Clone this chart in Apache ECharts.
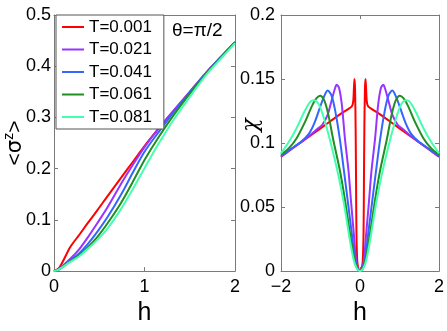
<!DOCTYPE html>
<html>
<head>
<meta charset="utf-8">
<script src="https://cdn.jsdelivr.net/npm/echarts@6/dist/echarts.min.js"></script>
<style>
  html, body { margin: 0; padding: 0; background: #fff; }
  #main { width: 447px; height: 331px; }
</style>
</head>
<body>
<div id="main"></div>
<script>
'use strict';
const FONT = 'Liberation Sans, Arial, Helvetica, sans-serif';
const GREEK = 'DejaVu Sans, Liberation Sans, sans-serif';
const AXIS_GREY = '#7a7a7a';

const names = ['T=0.001', 'T=0.021', 'T=0.041', 'T=0.061', 'T=0.081'];
const colors = ['#ff0000', '#9933ff', '#3366ff', '#1f8f1f', '#44ffb0'];

// left panel: <sigma^z> vs h
const hSigma = [0, 0.06, 0.18, 0.28, 0.37, 0.48, 0.59, 0.74, 0.87, 1.0, 1.15, 1.32, 1.5, 1.69, 1.85, 2.0];
const sigmaT001 = [0, 0.007, 0.047, 0.071, 0.093, 0.119, 0.146, 0.182, 0.213, 0.244, 0.277, 0.313, 0.350, 0.389, 0.419, 0.447];
const sigmaT021 = [0, 0.005, 0.024, 0.043, 0.065, 0.094, 0.124, 0.170, 0.207, 0.242, 0.277, 0.313, 0.350, 0.389, 0.419, 0.447];
const sigmaT041 = [0, 0.004, 0.021, 0.035, 0.052, 0.077, 0.105, 0.149, 0.192, 0.233, 0.270, 0.310, 0.349, 0.389, 0.419, 0.447];
const sigmaT061 = [0, 0.004, 0.019, 0.031, 0.046, 0.067, 0.093, 0.133, 0.174, 0.217, 0.260, 0.304, 0.346, 0.387, 0.418, 0.446];
const sigmaT081 = [0, 0.004, 0.018, 0.029, 0.043, 0.061, 0.083, 0.121, 0.160, 0.201, 0.247, 0.295, 0.340, 0.385, 0.416, 0.445];

// right panel: chi vs h, [h, chi]
const chiT001 = [
  [-2, 0.0893], [-1.75, 0.095], [-1.5, 0.1004], [-1.25, 0.106], [-1.0, 0.1115], [-0.75, 0.117],
  [-0.5, 0.1226], [-0.3, 0.1265], [-0.2, 0.129], [-0.17, 0.133], [-0.155, 0.142], [-0.14, 0.150],
  [-0.125, 0.142], [-0.11, 0.11], [-0.1, 0.07], [-0.09, 0.03], [-0.07, 0.008], [-0.04, 0.002], [0, 0],
  [0.04, 0.002], [0.07, 0.008], [0.09, 0.03], [0.1, 0.07], [0.11, 0.11], [0.125, 0.142], [0.14, 0.150],
  [0.155, 0.142], [0.17, 0.133], [0.2, 0.129], [0.3, 0.1265], [0.5, 0.1226], [0.75, 0.117],
  [1.0, 0.1115], [1.25, 0.106], [1.5, 0.1004], [1.75, 0.095], [2, 0.0893]
];
const chiT021 = [
  [-2, 0.0893], [-1.75, 0.095], [-1.5, 0.1004], [-1.25, 0.1065], [-1.1, 0.1105], [-0.95, 0.1145],
  [-0.82, 0.122], [-0.72, 0.133], [-0.64, 0.142], [-0.59, 0.1455], [-0.53, 0.143], [-0.46, 0.13],
  [-0.38, 0.103], [-0.29, 0.078], [-0.225, 0.0535], [-0.155, 0.0286], [-0.1, 0.0087], [-0.05, 0.002], [0, 0],
  [0.05, 0.002], [0.1, 0.0087], [0.155, 0.0286], [0.225, 0.0535], [0.29, 0.078], [0.38, 0.103],
  [0.46, 0.13], [0.53, 0.143], [0.59, 0.1455], [0.64, 0.142], [0.72, 0.133], [0.82, 0.122],
  [0.95, 0.1145], [1.1, 0.1105], [1.25, 0.1065], [1.5, 0.1004], [1.75, 0.095], [2, 0.0893]
];
const chiT041 = [
  [-2, 0.090], [-1.75, 0.0955], [-1.5, 0.1008], [-1.3, 0.107], [-1.15, 0.116], [-1.0, 0.129],
  [-0.9, 0.137], [-0.82, 0.141], [-0.72, 0.137], [-0.62, 0.124], [-0.51, 0.103], [-0.405, 0.078],
  [-0.305, 0.0535], [-0.205, 0.0286], [-0.125, 0.0087], [-0.06, 0.002], [0, 0],
  [0.06, 0.002], [0.125, 0.0087], [0.205, 0.0286], [0.305, 0.0535], [0.405, 0.078], [0.51, 0.103],
  [0.62, 0.124], [0.72, 0.137], [0.82, 0.141], [0.9, 0.137], [1.0, 0.129], [1.15, 0.116],
  [1.3, 0.107], [1.5, 0.1008], [1.75, 0.0955], [2, 0.090]
];
const chiT061 = [
  [-2, 0.091], [-1.8, 0.096], [-1.6, 0.104], [-1.4, 0.116], [-1.2, 0.130], [-1.1, 0.135],
  [-1.01, 0.137], [-0.9, 0.133], [-0.8, 0.122], [-0.68, 0.103], [-0.505, 0.078], [-0.37, 0.0535],
  [-0.25, 0.0286], [-0.14, 0.0087], [-0.07, 0.002], [0, 0],
  [0.07, 0.002], [0.14, 0.0087], [0.25, 0.0286], [0.37, 0.0535], [0.505, 0.078], [0.68, 0.103],
  [0.8, 0.122], [0.9, 0.133], [1.01, 0.137], [1.1, 0.135], [1.2, 0.130], [1.4, 0.116],
  [1.6, 0.104], [1.8, 0.096], [2, 0.091]
];
const chiT081 = [
  [-2, 0.092], [-1.8, 0.101], [-1.6, 0.112], [-1.4, 0.125], [-1.25, 0.1325], [-1.17, 0.1335],
  [-1.08, 0.132], [-1.01, 0.128], [-0.9, 0.118], [-0.765, 0.103], [-0.57, 0.078], [-0.41, 0.0535],
  [-0.28, 0.0286], [-0.16, 0.0087], [-0.08, 0.002], [0, 0],
  [0.08, 0.002], [0.16, 0.0087], [0.28, 0.0286], [0.41, 0.0535], [0.57, 0.078], [0.765, 0.103],
  [0.9, 0.118], [1.01, 0.128], [1.08, 0.132], [1.17, 0.1335], [1.25, 0.1325], [1.4, 0.125],
  [1.6, 0.112], [1.8, 0.101], [2, 0.092]
];

const sigmaSets = [sigmaT001, sigmaT021, sigmaT041, sigmaT061, sigmaT081];
const chiSets = [chiT001, chiT021, chiT041, chiT061, chiT081];

function frameAxis(extra) {
  return Object.assign({
    type: 'value',
    axisLine: {show: true, onZero: false, lineStyle: {color: AXIS_GREY, width: 1}},
    axisTick: {show: true, inside: true, length: 4, lineStyle: {color: AXIS_GREY}},
    splitLine: {show: false},
    axisLabel: {show: false}
  }, extra);
}
const labelStyle = {show: true, fontSize: 18, color: '#000', fontFamily: FONT};

const chart = echarts.init(document.getElementById('main'));
chart.setOption({
  animation: false,
  backgroundColor: '#fff',
  grid: [
    {left: 54, top: 15, width: 181, height: 268},
    {left: 281, top: 15, width: 161, height: 268}
  ],
  xAxis: [
    frameAxis({gridIndex: 0, position: 'bottom', min: 0, max: 2, interval: 1,
      axisLabel: Object.assign({margin: 7}, labelStyle),
      name: 'h', nameLocation: 'middle', nameGap: 14,
      nameTextStyle: {fontSize: 25, color: '#000', fontFamily: FONT}}),
    frameAxis({gridIndex: 0, position: 'top', min: 0, max: 2, interval: 1}),
    frameAxis({gridIndex: 1, position: 'bottom', min: -2, max: 2, interval: 2,
      axisLabel: Object.assign({margin: 7, formatter: v => (v < 0 ? '\u2212' + (-v) : String(v))}, labelStyle),
      name: 'h', nameLocation: 'middle', nameGap: 14,
      nameTextStyle: {fontSize: 25, color: '#000', fontFamily: FONT}}),
    frameAxis({gridIndex: 1, position: 'top', min: -2, max: 2, interval: 2})
  ],
  yAxis: [
    frameAxis({gridIndex: 0, position: 'left', min: 0, max: 0.5, interval: 0.1,
      axisLabel: Object.assign({margin: 3}, labelStyle)}),
    frameAxis({gridIndex: 0, position: 'right', min: 0, max: 0.5, interval: 0.1}),
    frameAxis({gridIndex: 1, position: 'left', min: 0, max: 0.2, interval: 0.05,
      axisLabel: Object.assign({margin: 6}, labelStyle)}),
    frameAxis({gridIndex: 1, position: 'right', min: 0, max: 0.2, interval: 0.05})
  ],
  legend: {
    orient: 'vertical',
    left: 56, top: 15,
    padding: [3, 12, 3, 6],
    itemGap: 4.5,
    itemWidth: 22,
    itemHeight: 2,
    itemTextGap: 3,
    icon: 'rect',
    backgroundColor: '#fff',
    borderColor: '#555',
    borderWidth: 1,
    borderRadius: 0,
    data: names,
    textStyle: {fontSize: 17, lineHeight: 18, color: '#000', fontFamily: FONT}
  },
  graphic: [{
    type: 'text', left: 172, top: 21, z: 100,
    style: {text: 'θ=π/2', fontSize: 19, fill: '#000', fontFamily: FONT}
  }, {
    type: 'text', x: 14, y: 143, rotation: Math.PI / 2, z: 100,
    style: {
      text: '{a|<}{g|σ}{s|z}{a|>}', align: 'center', verticalAlign: 'middle',
      rich: {
        a: {fontSize: 21, fontFamily: FONT, fill: '#000', verticalAlign: 'bottom'},
        g: {fontSize: 21, fontFamily: GREEK, fill: '#000', verticalAlign: 'bottom'},
        s: {fontSize: 14, fontFamily: FONT, fill: '#000', verticalAlign: 'top', padding: [0, 0, 10, 0]}
      }
    }
  }, {
    type: 'text', x: 251, y: 125, rotation: Math.PI / 2, z: 100,
    style: {text: 'χ', fontSize: 22, fill: '#000', fontFamily: 'DejaVu Serif, serif',
      fontStyle: 'italic', align: 'center', verticalAlign: 'middle'}
  }],
  series: [].concat(
    sigmaSets.map((vals, i) => ({
      name: names[i], type: 'line', xAxisIndex: 0, yAxisIndex: 0,
      data: hSigma.map((h, k) => [h, vals[k]]),
      symbol: 'none', smooth: 0.3, color: colors[i],
      lineStyle: {width: 2, color: colors[i]}
    })),
    chiSets.map((pts, i) => ({
      name: names[i], type: 'line', xAxisIndex: 2, yAxisIndex: 2,
      data: pts,
      symbol: 'none', smooth: 0.3, color: colors[i],
      lineStyle: {width: 2, color: colors[i]}
    }))
  )
});
</script>
</body>
</html>
